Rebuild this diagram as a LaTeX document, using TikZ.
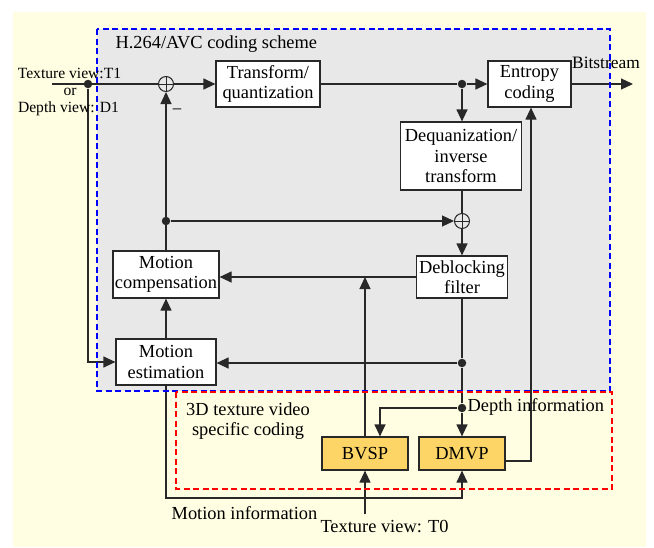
\documentclass[tikz,border=0pt]{standalone}
\usepackage{fontspec}
\setmainfont{Liberation Serif}
\usetikzlibrary{arrows.meta,calc}
\definecolor{bgyellow}{RGB}{255,254,226}
\definecolor{boxgray}{RGB}{232,232,232}
\definecolor{gold}{RGB}{252,213,102}
\definecolor{ln}{RGB}{40,40,40}
\begin{document}
\begin{tikzpicture}[x=1pt,y=-1pt,
  font=\fontsize{18.4}{20.5}\selectfont,
  line width=1.2pt, draw=ln,
  blk/.style={draw=ln, fill=white, align=center, inner sep=0pt, line width=1.2pt, text=black},
  arr/.style={-{Triangle[length=12pt,width=11pt]}},
  dot/.style={circle, fill=ln, inner sep=0pt, minimum size=8.5pt},
  sum/.style={circle, draw=ln, inner sep=0pt, minimum size=15pt, line width=1pt,
    path picture={\draw[ln,line width=1pt] (path picture bounding box.north) -- (path picture bounding box.south) (path picture bounding box.west) -- (path picture bounding box.east);}},
  lbl/.style={inner sep=0pt, text=black},
  small/.style={font=\fontsize{15.6}{18}\selectfont}]
\useasboundingbox (0,0) rectangle (654,547);
\fill[bgyellow] (13,12) rectangle (646,547);
\fill[boxgray] (97,29) rectangle (610,391);

% blocks
\node[blk, minimum width=104pt, minimum height=46pt] (T) at (268,84) {Transform/\\quantization};
\node[blk, minimum width=83pt, minimum height=46pt] (E) at (529.5,84) {Entropy\\coding};
\node[blk, minimum width=121pt, minimum height=68pt] (Q) at (461,156) {Dequanization/\\inverse\\transform};
\node[blk, minimum width=91pt, minimum height=42pt] (D) at (462,277) {Deblocking\\filter};
\node[blk, minimum width=106pt, minimum height=47pt] (MC) at (166,274.5) {Motion\\compensation};
\node[blk, minimum width=100pt, minimum height=46pt] (ME) at (166,362) {Motion\\estimation};
\node[blk, fill=gold, minimum width=86pt, minimum height=33pt] (B) at (365,453.5) {BVSP};
\node[blk, fill=gold, minimum width=86pt, minimum height=33pt] (DM) at (462,453.5) {DMVP};

% summation and junctions
\node[sum] (S1) at (166,84) {};
\node[sum] (S2) at (462,221) {};
\node[dot] (d0) at (88,84) {};
\node[dot] (d1) at (462,84) {};
\node[dot] (d2) at (166,221) {};
\node[dot] (d3) at (462,363) {};
\node[dot] (d4) at (462,408) {};
\coordinate (in) at (52,84);
\coordinate (out) at (633,84);
\coordinate (c5) at (531,461);
\coordinate (mi) at (166,498);
\coordinate (t0) at (365,514);

% connectors
\draw (in) -- (S1.west);
\draw[arr] (S1.east) -- (T.west);
\draw (T.east) -- (d1);
\draw[arr] (d1) -- (E.west);
\draw[arr] (E.east) -- (out);
\draw[arr] (d1) -- (d1 |- Q.north);
\draw (S2 |- Q.south) -- (S2.north);
\draw[arr] (d2) -- (S2.west);
\draw[arr] (S2.south) -- (D.north);
\draw[arr] (D.west) -- (D.west -| MC.east);
\draw[arr] (MC.north) -- (S1.south);
\draw[arr] (ME.north) -- (MC.south);
\draw (D.south) -- (d3) -- (d4);
\draw[arr] (d3) -- (d3 -| ME.east);
\draw[arr] (d0) |- (ME.west);
\draw[arr] (d4) -- (DM.north);
\draw[arr] (d4) -| ([xshift=15pt]B.north);
\draw[arr] (B.north) -- (B.north |- D.west);
\draw[arr] (DM.east |- c5) -- (c5) -- (c5 |- E.south);
\draw[arr] (ME.south) -- (mi) -| (DM.south);
\draw[arr] (t0) -- (B.south);

% dashed regions
\draw[blue, line width=2pt, dash pattern=on 6pt off 3.5pt] (97,29) rectangle (610,391);
\draw[red, line width=2pt, dash pattern=on 6pt off 3.5pt] (176,392) rectangle (612,489);

% labels
\node[lbl, anchor=west] (title) at (115,44) {H.264/AVC coding scheme};
\node[lbl, small] (tv1) at (69.5,73) {Texture view:T1};
\node[lbl, small] (or) at (70,92) {or};
\node[lbl, small] (dv1) at (68.5,109) {Depth view: D1};
\node[lbl] (minus) at (177,112) {−};
\node[lbl, font=\fontsize{17.4}{20}\selectfont] (bits) at (606,63) {Bitstream};
\node[lbl, anchor=west] (dinfo) at (467,407) {Depth information};
\node[lbl, align=center] (tdv) at (248,421) {3D texture video\\specific coding};
\node[lbl] (minfo) at (244.5,513) {Motion information};
\node[lbl] (tv0) at (384.5,527) {Texture view: T0};
\end{tikzpicture}
\end{document}
